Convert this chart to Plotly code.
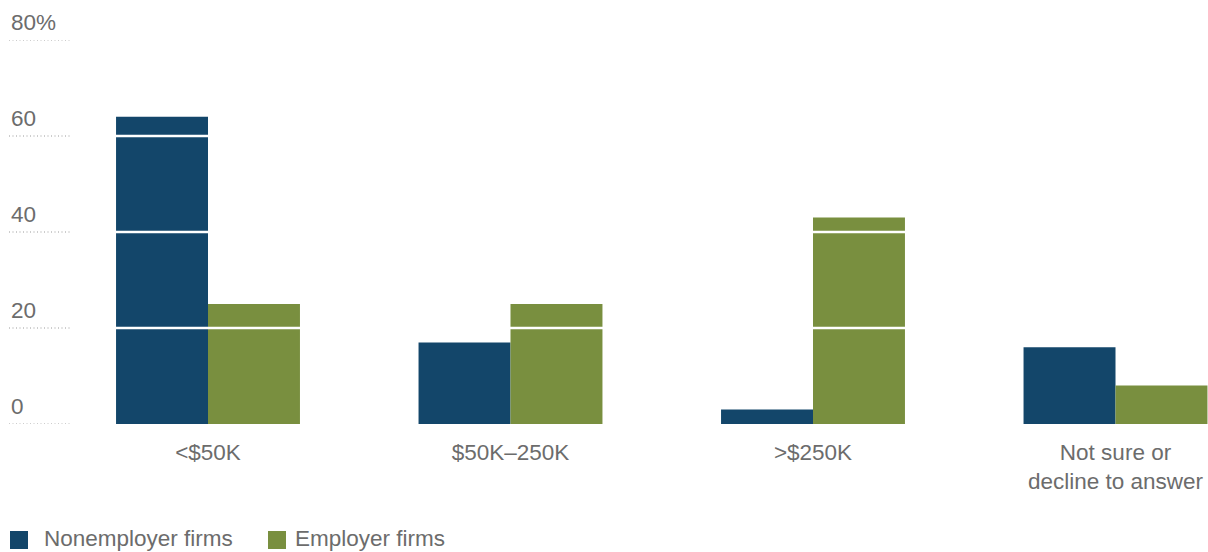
import plotly.graph_objects as go

# Survey categories and shares (%) by firm type
categories = ["<$50K", "$50K–250K", ">$250K", "Not sure or<br>decline to answer"]
nonemployer = [64, 17, 3, 16]
employer = [25, 25, 43, 8]

y_ticks = [0, 20, 40, 60, 80]
y_tick_labels = ["0", "20", "40", "60", "80%"]

series_names = ["Nonemployer firms", "Employer firms"]
NAVY = "#13466a"
GREEN = "#798f3f"
TEXT = "#6c6c6c"
FONT = "Liberation Sans, Arial, sans-serif"
FS = 22.5

W, H = 1208, 552
M_T, M_B = 40, 128
plot_h = H - M_T - M_B

fig = go.Figure()
fig.add_trace(go.Bar(x=categories, y=nonemployer, name=series_names[0],
                     marker=dict(color=NAVY, line=dict(width=0)), showlegend=False))
fig.add_trace(go.Bar(x=categories, y=employer, name=series_names[1],
                     marker=dict(color=GREEN, line=dict(width=0)), showlegend=False))

shapes = []
annotations = []
for v, lab in zip(y_ticks, y_tick_labels):
    # white gridlines drawn over the bars
    if v > 0:
        shapes.append(dict(type="line", xref="paper", yref="y", x0=0, x1=1, y0=v, y1=v,
                           line=dict(color="white", width=2.5), layer="above"))
    # short dotted rule under each axis label
    shapes.append(dict(type="line", xref="paper", yref="y", x0=9 / W, x1=71 / W, y0=v, y1=v,
                       line=dict(color="#9a9a9a", width=1, dash="1px,2.5px"), layer="above"))
    annotations.append(dict(text=lab, xref="paper", yref="y", x=9 / W, y=v, yshift=18,
                            xanchor="left", yanchor="middle", showarrow=False,
                            font=dict(family=FONT, size=FS, color=TEXT)))

# legend swatches and labels
legend_items = [(10, 42, NAVY, series_names[0]), (268, 293, GREEN, series_names[1])]
for sx, tx, col, name in legend_items:
    y_top = (H - M_B - 531) / plot_h
    y_bot = (H - M_B - 549) / plot_h
    shapes.append(dict(type="rect", xref="paper", yref="paper", x0=sx / W, x1=(sx + 18) / W,
                       y0=y_bot, y1=y_top, fillcolor=col, line=dict(width=0)))
    annotations.append(dict(text=name, xref="paper", yref="paper", x=tx / W,
                            y=(H - M_B - 538) / plot_h, xanchor="left", yanchor="middle",
                            showarrow=False, font=dict(family=FONT, size=FS, color=TEXT)))

fig.update_layout(
    width=W, height=H,
    margin=dict(l=0, r=0, t=M_T, b=M_B),
    paper_bgcolor="white", plot_bgcolor="white",
    barmode="group", bargap=0.392, bargroupgap=0,
    shapes=shapes, annotations=annotations,
    font=dict(family=FONT, color=TEXT),
    xaxis=dict(range=[-0.6876, 3.3058], showgrid=False, showline=False, zeroline=False,
               ticks="", ticklabelstandoff=12,
               tickfont=dict(family=FONT, size=FS, color=TEXT)),
    yaxis=dict(range=[0, 80], showgrid=False, showline=False, zeroline=False,
               showticklabels=False, tickvals=y_ticks),
)

fig.write_html("out.html")
